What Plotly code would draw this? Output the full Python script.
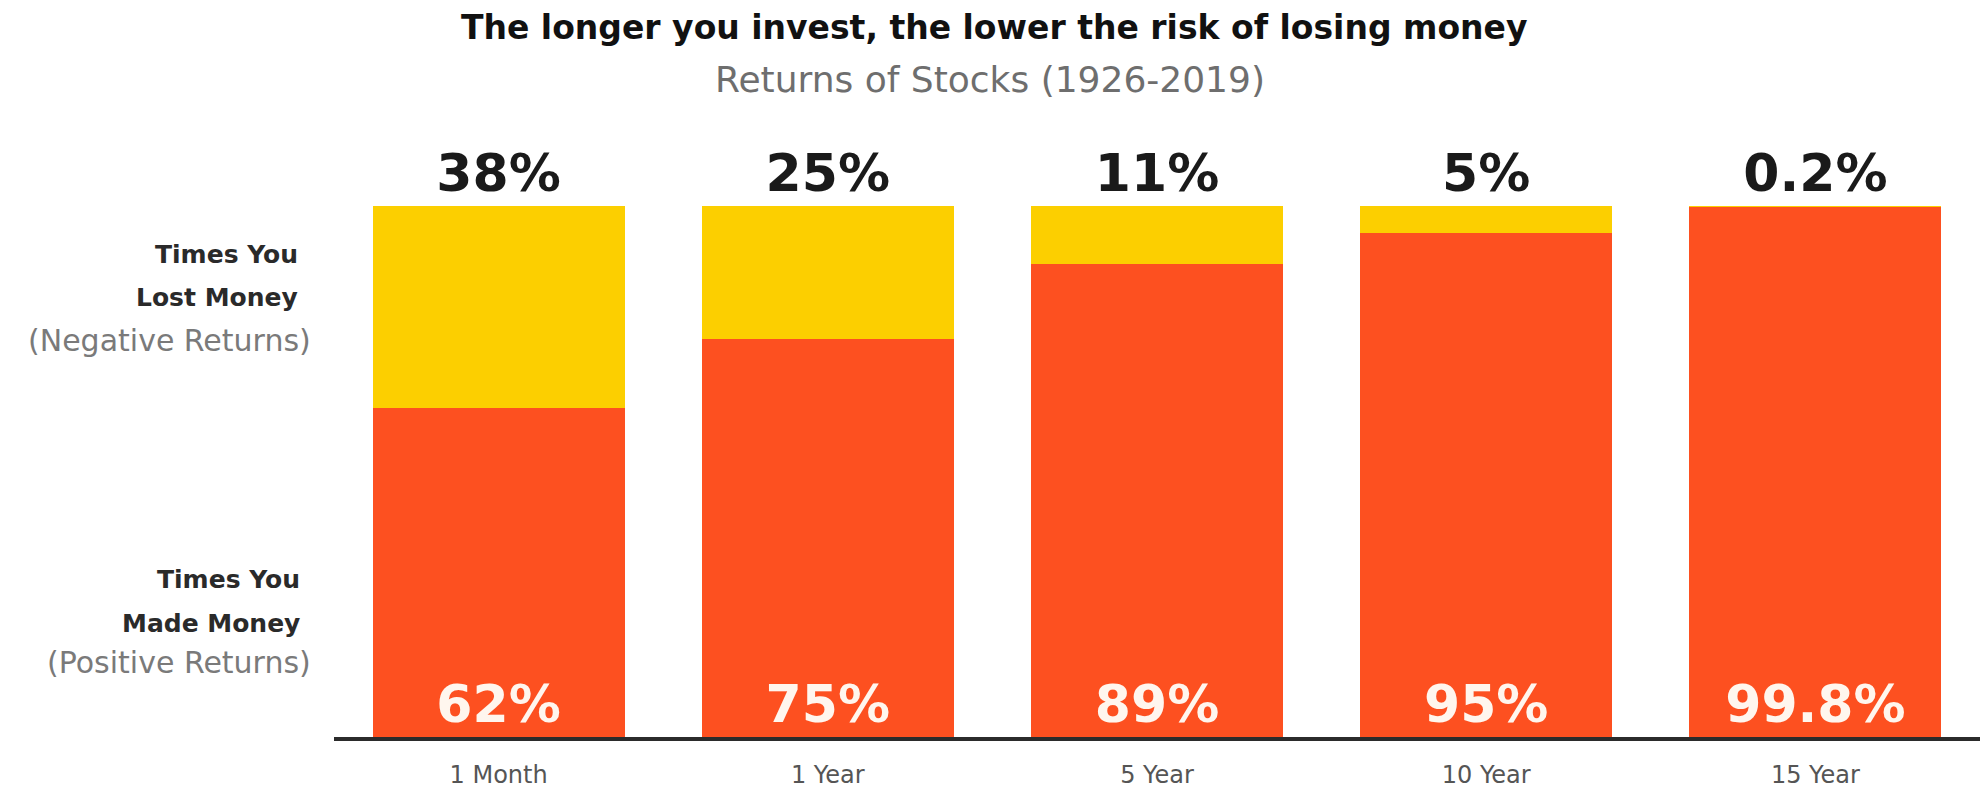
import plotly.graph_objects as go

# ---- data ----
periods = ["1 Month", "1 Year", "5 Year", "10 Year", "15 Year"]
made_money = [62, 75, 89, 95, 99.8]      # % of times positive returns
lost_money = [38, 25, 11, 5, 0.2]        # % of times negative returns

title_text = "The longer you invest, the lower the risk of losing money"
subtitle_text = "Returns of Stocks (1926-2019)"

# ---- layout geometry (pixels) ----
W, H = 1980, 793
ML, MR, MT, MB = 334, 0, 206, 56
PW, PH = W - ML - MR, H - MT - MB

def px(xp):
    return (xp - ML) / PW

def py(yp):
    return (H - MB - yp) / PH

RED = "#FD5020"
YEL = "#FCCF00"
FONT = "DejaVu Sans"

fig = go.Figure()
fig.add_trace(go.Bar(
    x=periods, y=made_money, marker=dict(color=RED, line=dict(width=0)),
    text=[f"{v:g}%" for v in made_money], textposition="inside",
    insidetextanchor="start", textangle=0,
    textfont=dict(family=FONT, size=52, color="#FFF6EE", weight="bold"),
    hoverinfo="skip", cliponaxis=False,
))
fig.add_trace(go.Bar(
    x=periods, y=lost_money, marker=dict(color=YEL, line=dict(width=0)),
    text=[f"{v:g}%" for v in lost_money], textposition="outside", textangle=0,
    textfont=dict(family=FONT, size=52, color="#1a1a1a", weight="bold"),
    hoverinfo="skip", cliponaxis=False,
))

annotations = [
    dict(text="<b>" + title_text + "</b>", x=px(994), y=py(27),
         font=dict(family=FONT, size=33, color="#111111")),
    dict(text=subtitle_text, x=px(990), y=py(80),
         font=dict(family=FONT, size=36, color="#6e6e6e")),
    dict(text="<b>Times You</b>", x=px(300), y=py(255), xanchor="right",
         font=dict(family=FONT, size=25, color="#2a2a2a")),
    dict(text="<b>Lost Money</b>", x=px(300), y=py(297), xanchor="right",
         font=dict(family=FONT, size=25, color="#2a2a2a")),
    dict(text="(Negative Returns)", x=px(313), y=py(340), xanchor="right",
         font=dict(family=FONT, size=30, color="#7a7a7a")),
    dict(text="<b>Times You</b>", x=px(302), y=py(579), xanchor="right",
         font=dict(family=FONT, size=25, color="#2a2a2a")),
    dict(text="<b>Made Money</b>", x=px(302), y=py(623), xanchor="right",
         font=dict(family=FONT, size=25, color="#2a2a2a")),
    dict(text="(Positive Returns)", x=px(313), y=py(662), xanchor="right",
         font=dict(family=FONT, size=30, color="#7a7a7a")),
]
for a in annotations:
    a.update(xref="paper", yref="paper", showarrow=False,
             yanchor="middle", xanchor=a.get("xanchor", "center"))

fig.update_layout(
    width=W, height=H,
    margin=dict(l=ML, r=MR, t=MT, b=MB, pad=0, autoexpand=False),
    barmode="stack", bargap=0.2345,
    paper_bgcolor="white", plot_bgcolor="white",
    showlegend=False,
    annotations=annotations,
    uniformtext=dict(mode=False),
    xaxis=dict(type="category", range=[-0.5, 4.5], showgrid=False,
               automargin=False,
               zeroline=False, showline=True, linecolor="#2b2b2b",
               linewidth=4, ticks="", ticklabelstandoff=13,
               tickfont=dict(family=FONT, size=24, color="#555555")),
    yaxis=dict(range=[0, 100], visible=False, showgrid=False, zeroline=False,
               automargin=False),
)

fig.write_html(
    "out.html",
    config={"displayModeBar": False, "staticPlot": True},
    post_script="document.body.style.margin='0px';document.body.style.overflow='hidden';",
)
